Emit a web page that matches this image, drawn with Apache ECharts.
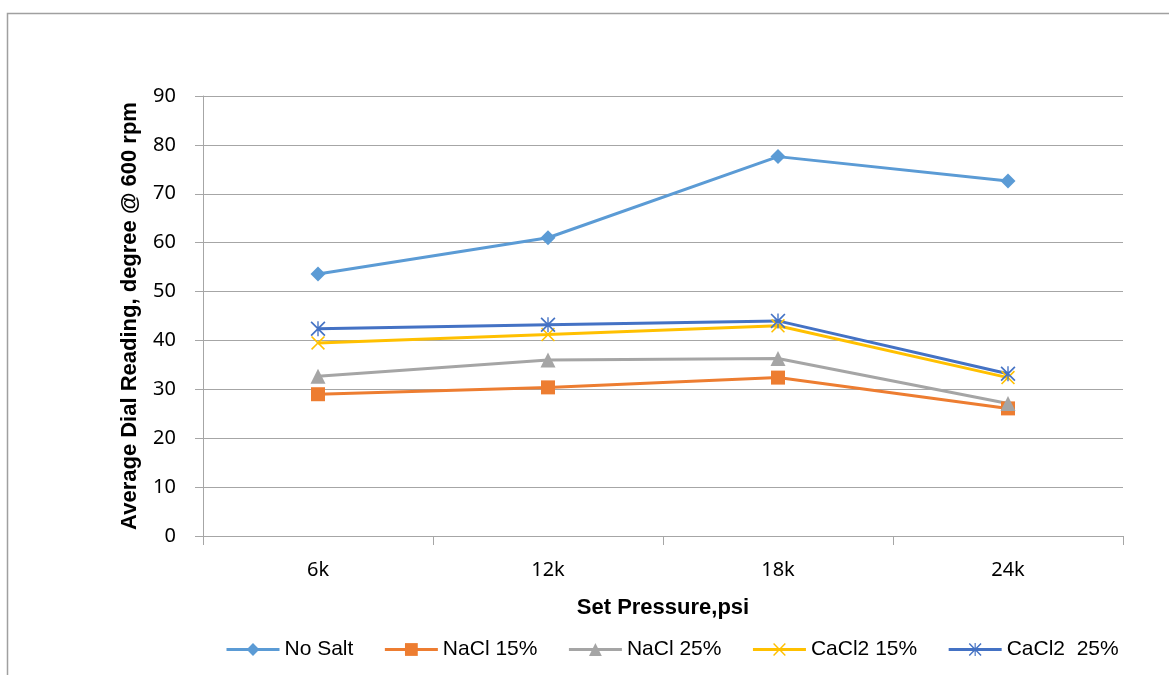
<!DOCTYPE html>
<html>
<head>
<meta charset="utf-8">
<script src="https://cdn.jsdelivr.net/npm/echarts@6/dist/echarts.min.js"></script>
<style>
  html, body { margin: 0; padding: 0; background: #fff; }
  #chart { width: 1169px; height: 675px; }
</style>
</head>
<body>
<div id="chart"></div>
<script>
// Average dial readings at 600 rpm for each salt treatment vs. set pressure
const categories = ['6k', '12k', '18k', '24k'];
const noSalt    = [53.6, 61.0, 77.6, 72.6];
const nacl15    = [29.0, 30.4, 32.4, 26.1];
const nacl25    = [32.7, 36.0, 36.3, 27.1];
const cacl2_15  = [39.5, 41.2, 43.0, 32.4];
const cacl2_25  = [42.4, 43.2, 44.0, 33.2];
const yTicks = { min: 0, max: 90, interval: 10 };

const FONT = '"Liberation Sans", Arial, sans-serif';
const TICK_FONT = '"Noto Sans", "Open Sans", sans-serif';

// thin cross and asterisk marker outlines
const xMark = 'path://M0,0.8 L0.8,0 L5,4.2 L9.2,0 L10,0.8 L5.8,5 L10,9.2 L9.2,10 L5,5.8 L0.8,10 L0,9.2 L4.2,5 Z';
const starMark = xMark + ' M4.55,0 L5.45,0 L5.45,10 L4.55,10 Z';

function lineSeries(name, data, color, symbol, size) {
  return {
    name, type: 'line', data,
    symbol, symbolSize: size, showAllSymbol: true,
    lineStyle: { color, width: 3 },
    itemStyle: { color, borderWidth: 0 },
    emphasis: { disabled: true },
    animation: false
  };
}

const chart = echarts.init(document.getElementById('chart'));
chart.setOption({
  backgroundColor: '#fff',
  textStyle: { fontFamily: FONT },
  graphic: [{
    type: 'rect', silent: true,
    shape: { x: 7.5, y: 13.5, width: 1200, height: 700 },
    style: { fill: 'none', stroke: '#a0a0a0', lineWidth: 1.5 }
  }],
  grid: { left: 203, right: 46, top: 96, bottom: 139 },
  xAxis: {
    type: 'category', data: categories, boundaryGap: true,
    name: 'Set Pressure,psi', nameLocation: 'middle', nameGap: 61,
    nameTextStyle: { fontFamily: FONT, fontSize: 22, fontWeight: 'bold', color: '#000' },
    axisLine: { lineStyle: { color: '#a6a6a6', width: 1 } },
    axisTick: { show: true, alignWithLabel: false, length: 9, lineStyle: { color: '#a6a6a6' } },
    axisLabel: { fontFamily: TICK_FONT, fontSize: 20, color: '#000', margin: 24 },
    splitLine: { show: false }
  },
  yAxis: {
    type: 'value', min: yTicks.min, max: yTicks.max, interval: yTicks.interval,
    name: 'Average Dial Reading, degree @ 600 rpm', nameLocation: 'middle', nameGap: 62,
    nameRotate: 90,
    nameTextStyle: { fontFamily: FONT, fontSize: 22, fontWeight: 'bold', color: '#000' },
    axisLine: { show: true, lineStyle: { color: '#a6a6a6', width: 1 } },
    axisTick: { show: true, length: 8, lineStyle: { color: '#a6a6a6' } },
    axisLabel: { fontFamily: TICK_FONT, fontSize: 20, color: '#000', margin: 27 },
    splitLine: { show: true, lineStyle: { color: '#a6a6a6', width: 1 } }
  },
  legend: {
    left: 225, top: 639, padding: 0,
    itemWidth: 53, itemHeight: 16, itemGap: 30,
    lineStyle: { width: 3 },
    textStyle: { fontFamily: FONT, fontSize: 21, color: '#000' },
    data: ['No Salt', 'NaCl 15%', 'NaCl 25%', 'CaCl2 15%', 'CaCl2  25%']
  },
  series: [
    lineSeries('No Salt', noSalt, '#5B9BD5', 'diamond', 15),
    lineSeries('NaCl 15%', nacl15, '#ED7D31', 'rect', 14),
    lineSeries('NaCl 25%', nacl25, '#A5A5A5', 'triangle', 15),
    lineSeries('CaCl2 15%', cacl2_15, '#FFC000', xMark, 14),
    lineSeries('CaCl2  25%', cacl2_25, '#4472C4', starMark, 15)
  ]
});
</script>
</body>
</html>
